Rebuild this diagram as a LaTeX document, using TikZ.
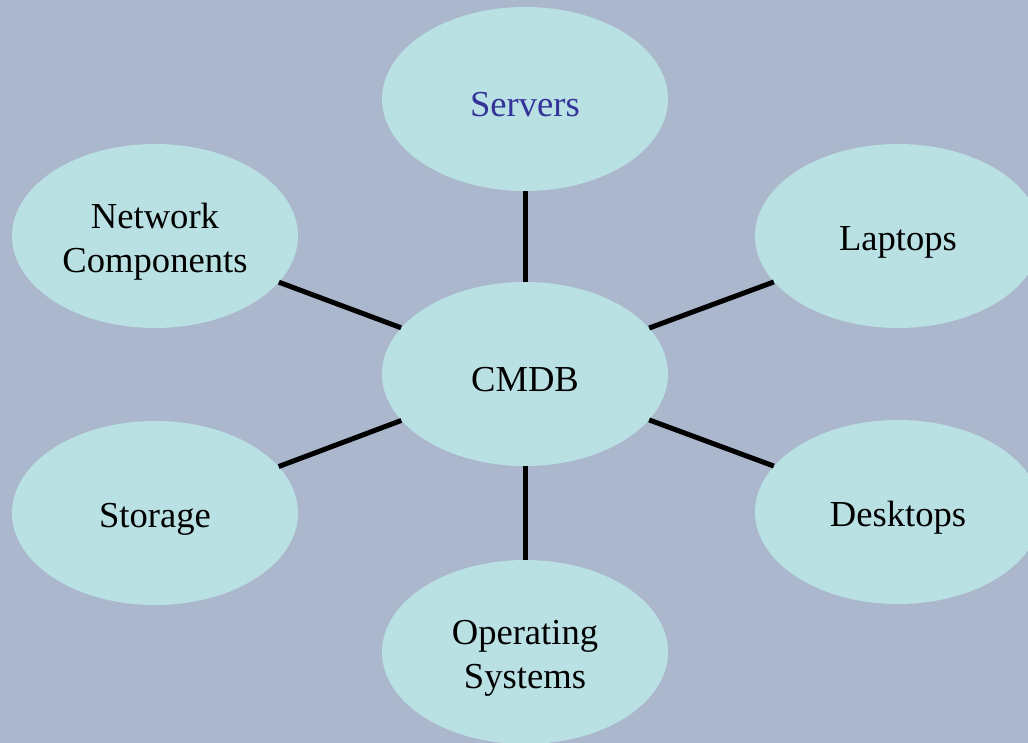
\documentclass[tikz,border=0pt]{standalone}
\usepackage{fontspec}
\setmainfont{Liberation Serif}
\usetikzlibrary{shapes.geometric}
\definecolor{bgfill}{HTML}{AAB7CC}
\definecolor{itemfill}{HTML}{B9E0E3}
\definecolor{serverblue}{HTML}{333399}
\begin{document}
\begin{tikzpicture}
      [
        x = 1pt, y = -1pt,
        item/.style = {ellipse, fill = itemfill, minimum width = 286pt, minimum height = 184pt,
            inner sep = 0pt, align = center, text height = #1,
            font = \fontsize{36.6}{44}\selectfont},
        item/.default = 36pt,
        link/.style = {draw, line width = 5pt},
      ]

      \fill[bgfill] (0,0) rectangle (1028,743);
      \useasboundingbox (0,0) rectangle (1028,743);

      \node[item, text = serverblue] (servers) at (525,99) {Servers};
      \node[item = 80pt] (network) at (155,236) {Network\\Components};
      \node[item] (laptops) at (898,236) {Laptops};
      \node[item] (cmdb) at (525,374) {CMDB};
      \node[item] (storage) at (155,513) {Storage};
      \node[item] (desktops) at (898,512) {Desktops};
      \node[item = 80pt] (os) at (525,652) {Operating\\Systems};

      \foreach \n in {servers, network, laptops, storage, desktops, os}
        \path[link] (cmdb) -- (\n);

    \end{tikzpicture}
\end{document}
